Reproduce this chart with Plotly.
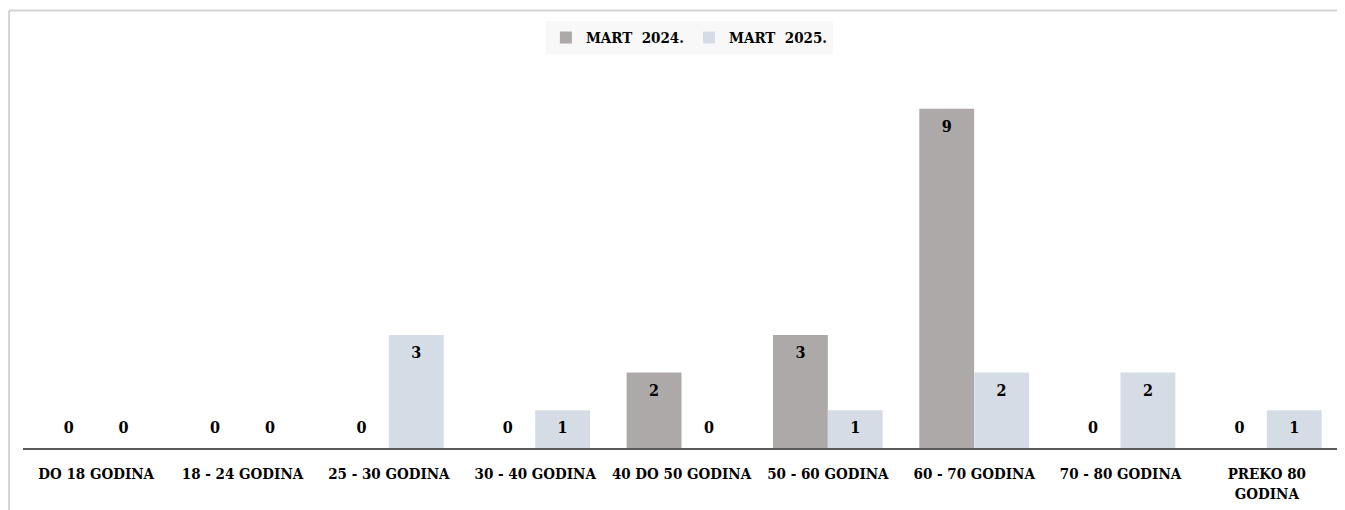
import plotly.graph_objects as go

categories = ["DO 18 GODINA", "18 - 24 GODINA", "25 - 30 GODINA", "30 - 40 GODINA",
              "40 DO 50 GODINA", "50 - 60 GODINA", "60 - 70 GODINA", "70 - 80 GODINA",
              "PREKO 80<br>GODINA"]
series_names = ["MART  2024.", "MART  2025."]
mart_2024 = [0, 0, 0, 0, 2, 3, 9, 0, 0]
mart_2025 = [0, 0, 3, 1, 0, 1, 2, 2, 1]

colors = ["#ADA9A8", "#D6DCE5"]
FONT = "DejaVu Serif Condensed, Liberation Serif, serif"

fig = go.Figure()
for i, (name, vals, col) in enumerate(zip(series_names, [mart_2024, mart_2025], colors)):
    fig.add_trace(go.Bar(
        x=categories, y=vals, name=name,
        marker=dict(color=col, line=dict(width=0)),
        offsetgroup=str(i), alignmentgroup="a",
        hoverinfo="skip",
    ))
for i, vals in enumerate([mart_2024, mart_2025]):
    fig.add_trace(go.Scatter(
        x=categories, y=vals, mode="markers+text",
        marker=dict(size=16, color="rgba(0,0,0,0)"),
        text=[str(v) for v in vals],
        textposition=["top center" if v == 0 else "bottom center" for v in vals],
        textfont=dict(family=FONT, size=16, color="#000000", weight="bold"),
        offsetgroup=str(i), alignmentgroup="a",
        showlegend=False, cliponaxis=False, hoverinfo="skip",
    ))

fig.update_layout(
    width=1337, height=502,
    margin=dict(l=15, r=5, t=63, b=62),
    paper_bgcolor="white", plot_bgcolor="white",
    barmode="group", bargap=0.25, bargroupgap=0,
    scattermode="group", scattergap=0.25,
    showlegend=True,
    legend=dict(orientation="h", x=0.506, xanchor="center", y=1.088, yanchor="middle",
                bgcolor="#F8F8F8", font=dict(family=FONT, size=15, color="#000000", weight="bold"),
                itemwidth=30, traceorder="normal"),
    xaxis=dict(showline=True, linecolor="#595959", linewidth=2, showgrid=False,
               ticks="outside", ticklen=11, tickcolor="rgba(0,0,0,0)",
               tickfont=dict(family=FONT, size=15, color="#000000", weight="bold"),
               fixedrange=True),
    yaxis=dict(range=[0, 10], visible=False, showgrid=False, zeroline=False),
    shapes=[
        dict(type="line", xref="paper", yref="paper", x0=-0.0106, x1=1.01, y0=1.1605, y1=1.1605,
             line=dict(color="#D4D4D4", width=2)),
        dict(type="line", xref="paper", yref="paper", x0=-0.0106, x1=-0.0106, y0=1.1605, y1=-0.2,
             line=dict(color="#D4D4D4", width=2)),
    ],
)

fig.write_html("out.html")
